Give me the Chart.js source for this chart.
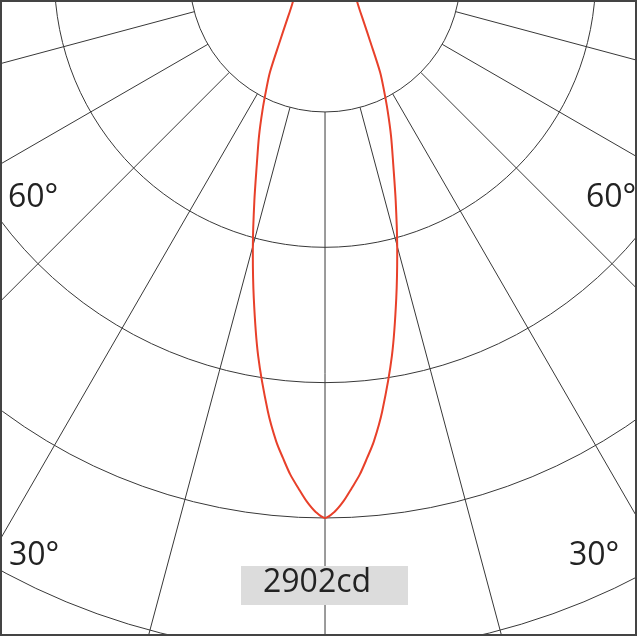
<!DOCTYPE html>
<html>
<head>
<meta charset="utf-8">
<script src="https://cdn.jsdelivr.net/npm/chart.js@4.4.1/dist/chart.umd.min.js"></script>
<style>
    html, body { margin: 0; padding: 0; background: #fff; }
    #frame {
        position: absolute;
        left: 0;
        top: 0;
        width: 633px;
        height: 632px;
        border: 2px solid #444;
        overflow: hidden;
    }
    canvas { display: block; }
</style>
</head>
<body>
<div id="frame"><canvas id="ldcChart"></canvas></div>
<script>
// luminous intensity (cd), C0/C180 plane, symmetric
const beamAngles = [0, 1, 2, 3, 4, 5, 6, 7.5, 10, 12.5, 15, 17.5, 20, 22.5, 25, 27.5, 30, 35, 40, 45, 50, 55, 60, 70, 80, 90];
const beamCandela = [2902, 2870, 2815, 2745, 2675, 2590, 2505, 2350, 2065, 1765, 1495, 1260, 1069, 925, 795, 683, 590, 421, 327, 268, 230, 204, 180, 130, 70, 20];

const maxCandela = 2902;
const ringCount = 6;
const gridAngles = [-90, -75, -60, -45, -30, -15, 0, 15, 30, 45, 60, 75, 90];
const angleLabels = ["60°", "30°"];

const ringStep = maxCandela / 4;

const toRad = (deg) => deg * Math.PI / 180;

const curvePoints = [];

for (let i = beamAngles.length - 1; i > 0; i--) {
    const t = toRad(-beamAngles[i]);
    curvePoints.push({ x: beamCandela[i] * Math.sin(t), y: -beamCandela[i] * Math.cos(t) });
}

for (let i = 0; i < beamAngles.length; i++) {
    const t = toRad(beamAngles[i]);
    curvePoints.push({ x: beamCandela[i] * Math.sin(t), y: -beamCandela[i] * Math.cos(t) });
}

// polar grid: rings and angle rays, drawn through the chart scales
const polarGrid = {
    id: "polarGrid",
    beforeDatasetsDraw(chart) {
        const { ctx, scales: { x, y } } = chart;
        const cx = x.getPixelForValue(0);
        const cy = y.getPixelForValue(0);

        ctx.save();
        ctx.strokeStyle = "#383838";
        ctx.lineWidth = 1;

        for (let k = 1; k <= ringCount; k++) {
            const r = k * ringStep;
            const rx = x.getPixelForValue(r) - cx;
            const ry = y.getPixelForValue(-r) - cy;
            ctx.beginPath();
            ctx.ellipse(cx, cy, rx, ry, 0, 0, Math.PI * 2);
            ctx.stroke();
        }

        const inner = ringStep;
        const outer = ringStep * (ringCount + 2);

        for (const a of gridAngles) {
            const t = toRad(a);
            ctx.beginPath();
            ctx.moveTo(x.getPixelForValue(inner * Math.sin(t)), y.getPixelForValue(-inner * Math.cos(t)));
            ctx.lineTo(x.getPixelForValue(outer * Math.sin(t)), y.getPixelForValue(-outer * Math.cos(t)));
            ctx.stroke();
        }

        ctx.restore();
    },
    afterDraw(chart) {
        const { ctx } = chart;

        ctx.save();
        ctx.font = "32px 'Open Sans'";
        ctx.fillStyle = "#222";
        ctx.textBaseline = "alphabetic";

        ctx.fillText(angleLabels[0], 6, 205);
        ctx.fillText(angleLabels[0], 584, 205);
        ctx.fillText(angleLabels[1], 7, 563);
        ctx.fillText(angleLabels[1], 567, 563);

        ctx.fillStyle = "#dcdcdc";
        ctx.fillRect(239, 564, 167, 39);

        ctx.fillStyle = "#222";
        ctx.fillText(maxCandela + "cd", 261, 590);
        ctx.restore();
    }
};

const ctx = document.getElementById("ldcChart").getContext("2d");

new Chart(ctx, {

    type: "scatter",

    data: {
        datasets: [
            {
                label: "C0/C180",
                data: curvePoints,
                showLine: true,
                borderColor: "#e8402a",
                backgroundColor: "#e8402a",
                borderWidth: 2,
                pointRadius: 0,
                tension: 0.3,
                clip: false
            }
        ]
    },

    options: {
        responsive: true,
        maintainAspectRatio: false,
        animation: false,
        layout: { padding: 0 },

        plugins: {
            legend: { display: false },
            tooltip: { enabled: false }
        },

        scales: {
            x: { type: "linear", min: -1732, max: 1662, display: false },
            y: { type: "linear", min: -3524, max: -136, display: false }
        }
    },

    plugins: [polarGrid]
});
</script>
</body>
</html>
